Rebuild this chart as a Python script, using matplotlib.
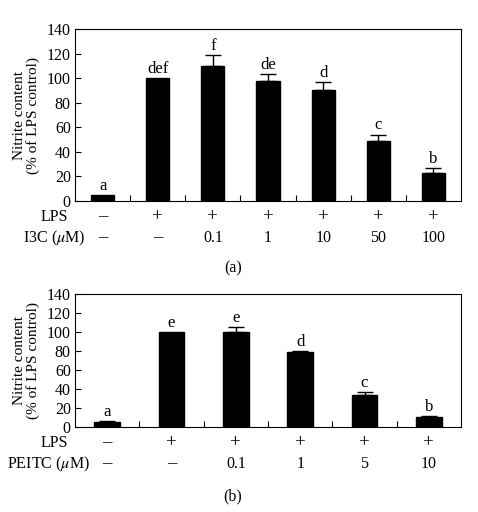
import matplotlib.pyplot as plt

plt.rcParams['font.family'] = ['Liberation Serif', 'DejaVu Serif']
plt.rcParams['mathtext.fontset'] = 'stix'

# panel (a): I3C
a_vals = [5, 100, 110, 97.5, 90, 49, 23]
a_errs = [0, 0, 9, 6, 7, 5, 4]
a_letters = ["a", "def", "f", "de", "d", "c", "b"]
a_lps = ["\u2013", "+", "+", "+", "+", "+", "+"]
a_dose = ["\u2013", "\u2013", "0.1", "1", "10", "50", "100"]

# panel (b): PEITC
b_vals = [5, 100, 100, 79, 33.5, 10.5]
b_errs = [1.5, 0, 5.5, 1, 3, 1]
b_letters = ["a", "e", "e", "d", "c", "b"]
b_lps = ["\u2013", "+", "+", "+", "+", "+"]
b_dose = ["\u2013", "\u2013", "0.1", "1", "5", "10"]

fs = 11.5
W, H = 478, 512


def size_of(s):
    # signs are drawn a bit larger than the numbers
    return fs + 2 if s in ("+", "\u2013") else fs


def panel(ax, vals, errs, letters, lps, dose, dose_name, width,
          ax_h, lps_x, dose_x):
    n = len(vals)
    x = list(range(n))
    ax.bar(x, vals, width=width, color="black", edgecolor="black")
    for i in x:
        if errs[i] > 0:
            ax.errorbar(i, vals[i], yerr=[[0], [errs[i]]], fmt="none",
                        ecolor="black", elinewidth=1, capsize=5.5, capthick=1)
        ax.text(i, vals[i] + errs[i] + 1.0, letters[i], ha="center",
                va="bottom", fontsize=fs + 0.5)
    ax.set_xlim(-0.5, n - 0.5)
    ax.set_ylim(0, 140)
    ax.set_yticks(range(0, 141, 20))
    ax.set_xticks([i + 0.5 for i in range(n - 1)])
    ax.set_xticklabels([])
    ax.tick_params(axis="both", direction="in", length=4, width=0.8,
                   labelsize=fs, pad=3)
    for s in ax.spines.values():
        s.set_linewidth(0.8)
    ax.set_ylabel("Nitrite content\n(% of LPS control)", fontsize=fs - 0.5,
                  labelpad=5, linespacing=1.0)
    # treatment rows below the axis (offsets in pixels)
    trans = ax.get_xaxis_transform()
    y1 = -16 / ax_h
    y2 = -37 / ax_h
    for i in x:
        ax.text(i, y1, lps[i], transform=trans, ha="center", va="center",
                fontsize=size_of(lps[i]))
        ax.text(i, y2, dose[i], transform=trans, ha="center", va="center",
                fontsize=size_of(dose[i]))
    ax.text(lps_x, y1, "LPS", transform=trans, ha="right", va="center",
            fontsize=fs)
    ax.text(dose_x, y2, dose_name + r" ($\mu$M)", transform=trans,
            ha="right", va="center", fontsize=fs)
    return ax


fig = plt.figure(figsize=(4.78, 5.12), dpi=100)
ax1 = fig.add_axes([75 / W, 1 - 201 / H, 386 / W, 172 / H])
ax2 = fig.add_axes([75 / W, 1 - 427 / H, 386 / W, 133 / H])

# label right edges converted to data units (pixels -> category units)
step_a = 386 / 7
step_b = 386 / 6
panel(ax1, a_vals, a_errs, a_letters, a_lps, a_dose, "I3C", 0.42, 172,
      -0.5 + (68 - 75) / step_a, -0.5 + (86 - 75) / step_a)
panel(ax2, b_vals, b_errs, b_letters, b_lps, b_dose, "PEITC", 0.4, 133,
      -0.5 + (68 - 75) / step_b, -0.5 + (90 - 75) / step_b)

fig.text(233 / W, 1 - 268 / H, "(a)", ha="center", va="center", fontsize=fs)
fig.text(233 / W, 1 - 496 / H, "(b)", ha="center", va="center", fontsize=fs)

fig.savefig("out.png", dpi=100)
